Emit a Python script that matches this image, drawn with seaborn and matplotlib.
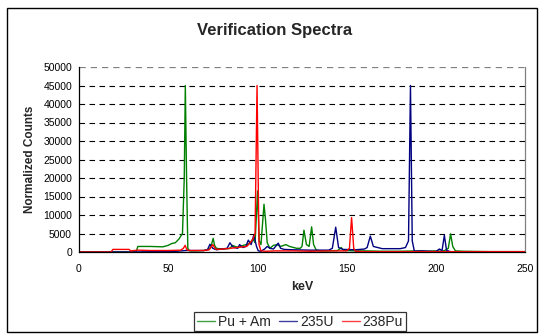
import matplotlib
matplotlib.use("Agg")
import matplotlib.pyplot as plt
import seaborn as sns
import pandas as pd
from matplotlib.patches import Rectangle

# ---- data ----
kev_puam = [0, 20, 32, 33, 40, 47, 50, 52, 54, 56, 58, 59, 59.6, 60.3, 61, 62, 65, 70, 73, 74,
            75.2, 76, 77, 80, 84, 85, 86, 88, 90, 92, 94, 96, 97.5, 98.7, 100.1, 101, 102, 103.7,
            104.5, 105.5, 107, 109, 111, 113, 116, 118, 122, 124, 125, 126.1, 127.5, 129,
            130.4, 131.5, 133, 136, 140, 145, 147, 148, 150, 155, 160, 170, 180, 190, 195,
            200, 203, 205, 207, 208.3, 209.5, 211, 215, 230, 250]
cnt_puam = [0, 0, 0, 1500, 1500, 1400, 1800, 2300, 2500, 3500, 5000, 20000, 45000, 20000, 1000,
            300, 300, 400, 800, 1500, 3700, 1800, 1000, 800, 900, 1200, 1800, 1400, 1300, 1800,
            2000, 2500, 3500, 2500, 16500, 3000, 2000, 12900, 9000, 2500, 1000, 1800, 2000, 1500,
            2000, 1500, 1000, 1000, 1500, 5900, 2000, 1500, 6800, 2000, 500, 300, 300, 400,
            1200, 500, 400, 300, 300, 200, 200, 300, 200, 300, 200, 400, 1000, 4900, 1500, 300,
            200, 100, 100]

kev_u235 = [0, 30, 55, 60, 65, 70, 72, 73.4, 75, 77, 80, 83, 84.6, 86, 87, 89, 90, 92, 93.5,
            94.9, 96.5, 98, 99.5, 100.5, 102, 104, 105.5, 107, 109, 111.7, 113, 115, 120, 130,
            140, 142, 143.9, 145.5, 148, 155, 160, 161.5, 163.3, 165, 170, 180, 183, 184.7,
            185.8, 186.8, 188, 192, 197, 200, 202, 203.5, 204.8, 206, 208, 215, 250]
cnt_u235 = [0, 0, 200, 400, 400, 400, 600, 2100, 1000, 600, 800, 1000, 2500, 1500, 1200, 1000,
            2000, 1200, 1500, 3200, 2000, 4600, 1500, 300, 200, 800, 1500, 1000, 800, 2400,
            1000, 700, 600, 500, 500, 1000, 6700, 1200, 700, 600, 800, 1200, 4300, 1500, 900,
            900, 1200, 3000, 45000, 3000, 200, 300, 200, 100, 800, 400, 4500, 500, 100, 0, 0]

kev_pu238 = [0, 18, 19, 28, 29, 33, 40, 50, 57, 58.5, 59.5, 60.5, 62, 70, 73, 75, 76.5, 78, 85,
             90, 94, 96, 97.5, 98.7, 99.8, 100.9, 102, 105, 110, 120, 130, 140, 150, 151.6,
             152.8, 154, 155, 160, 200, 250]
cnt_pu238 = [0, 0, 700, 700, 300, 500, 400, 400, 500, 1000, 1800, 600, 400, 400, 600, 2000, 800,
             700, 1000, 1300, 1500, 2500, 3500, 5000, 45000, 2000, 300, 200, 300, 300, 200, 300,
             300, 1000, 9300, 1000, 200, 100, 100, 100]

series_names = ["Pu + Am", "235U", "238Pu"]
series_colors = ["#008000", "#000080", "#FF0000"]
x_ticks = [0, 50, 100, 150, 200, 250]
y_ticks = list(range(0, 50001, 5000))

# ---- build long table ----
frames = []
for name, kx, cy in zip(series_names, [kev_puam, kev_u235, kev_pu238],
                        [cnt_puam, cnt_u235, cnt_pu238]):
    frames.append(pd.DataFrame({"keV": kx, "counts": cy, "series": name}))
df = pd.concat(frames, ignore_index=True)

sns.set_style("white")
plt.rcParams["font.family"] = ["Liberation Sans", "DejaVu Sans"]

fig = plt.figure(figsize=(5.39, 3.36), dpi=100)
ax = fig.add_axes([79 / 539, 84 / 336, (525 - 79) / 539, (252 - 67) / 336])

sns.lineplot(data=df, x="keV", y="counts", hue="series", hue_order=series_names,
             palette=dict(zip(series_names, series_colors)), sort=False, estimator=None,
             linewidth=1.0, ax=ax, legend=False)

ax.set_xlim(0, 250)
ax.set_ylim(0, 50000)
ax.set_xticks(x_ticks)
ax.set_yticks(y_ticks)
ax.tick_params(axis="both", labelsize=7.5, length=3, width=0.8, direction="out",
               colors="black", pad=2)
ax.tick_params(axis="x", pad=6)
for y in y_ticks[1:-1]:
    ax.axhline(y, color="black", linestyle=(0, (5, 4)), linewidth=0.8, zorder=0)
ax.axhline(50000, color="#808080", linestyle=(0, (5, 4)), linewidth=0.9, zorder=0)

for side in ["left", "bottom"]:
    ax.spines[side].set_color("black")
    ax.spines[side].set_linewidth(0.9)
ax.spines["top"].set_visible(False)
ax.spines["right"].set_color("#808080")
ax.spines["right"].set_linewidth(0.9)

ax.set_xlabel("keV", fontsize=9, fontweight="bold", labelpad=5)
ax.set_ylabel("Normalized Counts", fontsize=8.5, fontweight="bold", labelpad=5)
fig.text(275 / 539, 1 - 30 / 336, "Verification Spectra", ha="center", va="center",
         fontsize=12, fontweight="bold")

handles = [plt.Line2D([], [], color=c, linewidth=1.0, alpha=0.75) for c in series_colors]
leg = fig.legend(handles, series_names, loc="center", bbox_to_anchor=(300 / 539, 1 - 321.5 / 336),
                 ncol=3, fontsize=10, frameon=True, fancybox=False, handlelength=1.3,
                 handletextpad=0.2, columnspacing=0.6, borderpad=0.2, borderaxespad=0)
leg.get_frame().set_edgecolor("black")
leg.get_frame().set_linewidth(0.9)

fig.patches.append(Rectangle((7 / 539, 1 - 332 / 336), (537 - 7) / 539, (332 - 8) / 336,
                             transform=fig.transFigure, fill=False, edgecolor="black",
                             linewidth=1.0))

fig.savefig("out.png", dpi=100)
